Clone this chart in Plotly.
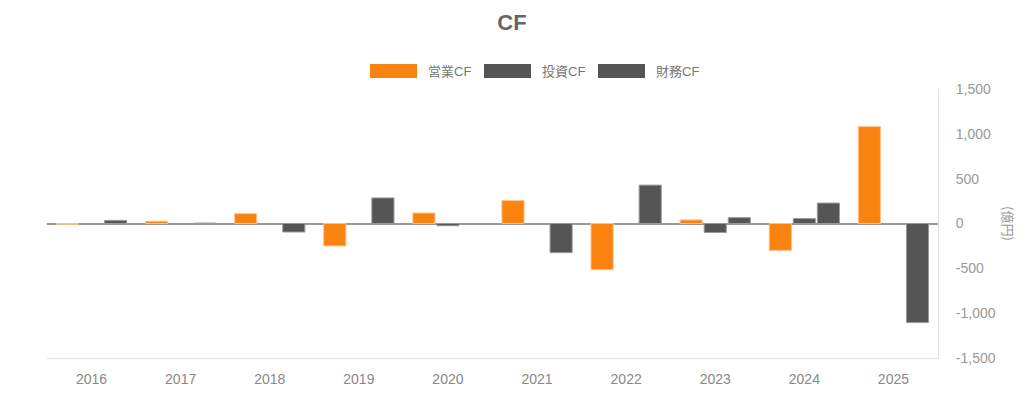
import plotly.graph_objects as go

years = ["2016", "2017", "2018", "2019", "2020", "2021", "2022", "2023", "2024", "2025"]
operating_cf = [-10, 25, 110, -250, 117, 255, -515, 40, -300, 1080]
investing_cf = [0, 0, 0, 0, -25, 0, 0, -100, 55, 0]
financing_cf = [35, 5, -95, 285, 0, -325, 428, 65, 228, -1105]

series_names = ["営業CF", "投資CF", "財務CF"]
y_tick_vals = [-1500, -1000, -500, 0, 500, 1000, 1500]
y_tick_labels = ["-1,500", "-1,000", "-500", "0", "500", "1,000", "1,500"]

colors = ["#FA830F", "#555555", "#555555"]
line_colors = ["#FCC08A", "#9A9A9A", "#9A9A9A"]

FONT = "Liberation Sans, Arial, Noto Sans CJK JP, sans-serif"
W, H = 1024, 393
L, R, T, B = 47, 86, 89, 35
PW, PH = W - L - R, H - T - B


def px_to_paper(px, py):
    return (px - L) / PW, (H - B - py) / PH


fig = go.Figure()
for name, vals, c, lc in zip(series_names, [operating_cf, investing_cf, financing_cf], colors, line_colors):
    fig.add_trace(go.Bar(
        x=years, y=vals, name=name, showlegend=False,
        marker=dict(color=c, line=dict(color=lc, width=1)),
    ))

# custom legend (wide swatches like the reference)
legend_swatch_left = [370, 484, 598]
shapes = []
annotations = []
for name, c, sx in zip(series_names, colors, legend_swatch_left):
    x0, y0 = px_to_paper(sx, 78)
    x1, y1 = px_to_paper(sx + 47, 64)
    shapes.append(dict(type="rect", xref="paper", yref="paper", x0=x0, y0=y0, x1=x1, y1=y1,
                       fillcolor=c, line=dict(width=0), layer="above"))
    tx, ty = px_to_paper(sx + 56, 71)
    annotations.append(dict(text=name, xref="paper", yref="paper", x=tx, y=ty,
                            xanchor="left", yanchor="middle", showarrow=False,
                            font=dict(family=FONT, size=13, color="#777777")))

annotations.append(dict(text="(億円)", textangle=90, xref="paper", yref="paper",
                        x=1.0, xshift=82, y=0.5, showarrow=False,
                        font=dict(family="Noto Sans CJK JP, sans-serif", size=13, color="#999999")))

fig.update_layout(
    width=W, height=H,
    paper_bgcolor="white", plot_bgcolor="white",
    barmode="group", bargap=0.19, bargroupgap=0.08,
    margin=dict(l=L, r=R, t=T, b=B, autoexpand=False),
    font=dict(family=FONT, size=14, color="#888888"),
    showlegend=False,
    title=dict(text="<b>CF</b>", x=0.5, xanchor="center", y=0.962, yanchor="top",
               font=dict(family=FONT, size=22, color="#666666")),
    xaxis=dict(showline=True, linecolor="#E3E3E3", linewidth=1, ticks="",
               ticklabelstandoff=8,
               tickfont=dict(color="#888888", size=14), showgrid=False),
    yaxis=dict(side="right", range=[-1500, 1500],
               tickmode="array", tickvals=y_tick_vals, ticktext=y_tick_labels,
               showgrid=False, showline=True, linecolor="#E3E3E3", linewidth=1,
               zeroline=True, zerolinecolor="#999999", zerolinewidth=2,
               ticks="", ticklabelstandoff=14,
               tickfont=dict(color="#999999", size=14)),
    shapes=shapes,
    annotations=annotations,
)

fig.write_html("out.html", config={"displayModeBar": False},
               post_script="document.body.style.margin='0';document.body.style.overflow='hidden';")
